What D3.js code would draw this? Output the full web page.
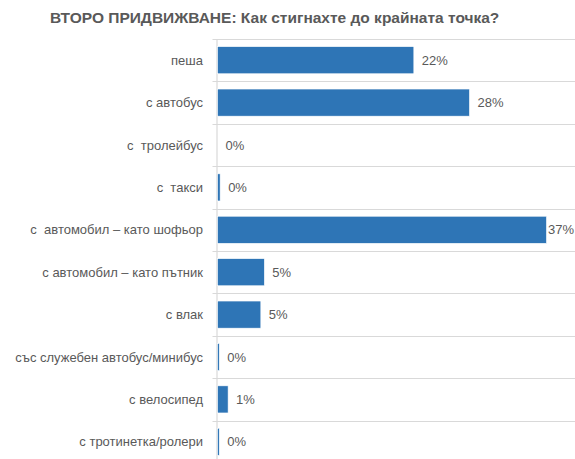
<!DOCTYPE html>
<html>
<head>
<meta charset="utf-8">
<script src="https://cdn.jsdelivr.net/npm/d3@7"></script>
<style>
  html, body { margin: 0; padding: 0; background: #fff; }
  svg text { font-family: "Liberation Sans", Arial, sans-serif; white-space: pre; }
</style>
</head>
<body>
<svg id="chart" width="575" height="459"></svg>
<script>
// Answers to "how did you reach the final point" (share of respondents)
const categories = [
  "пеша",
  "с автобус",
  "с  тролейбус",
  "с  такси",
  "с  автомобил – като шофьор",
  "с автомобил – като пътник",
  "с влак",
  "със служебен автобус/минибус",
  "с велосипед",
  "с тротинетка/ролери"
];
const shares = [0.222, 0.2849, 0.0, 0.003, 0.372, 0.053, 0.049, 0.002, 0.012, 0.002];
const titleText = "ВТОРО ПРИДВИЖВАНЕ: Как стигнахте до крайната точка?";

const W = 575, H = 459;
const plotLeft = 217.5, plotRight = 546.5, plotTop = 39, plotBottom = 463;
const textColor = "#595959", barColor = "#2E75B6", gridColor = "#d9d9d9";

const svg = d3.select("#chart");

const x = d3.scaleLinear().domain([0, d3.max(shares)]).range([plotLeft, plotRight]);
const y = d3.scaleBand().domain(categories).range([plotTop, plotBottom])
  .paddingInner(0.36).paddingOuter(0.18);
const fmt = d3.format(".0%");

// Title
svg.append("text")
  .attr("x", 50).attr("y", 23)
  .attr("font-size", 15.5).attr("font-weight", "bold")
  .attr("fill", textColor)
  .text(titleText);

// Separators between categories
const step = y.step();
const bounds = d3.range(categories.length + 1).map(i => plotTop + i * step);
svg.append("g").selectAll("line").data(bounds).join("line")
  .attr("x1", plotLeft - 5).attr("x2", W)
  .attr("y1", d => Math.round(d) + 0.5).attr("y2", d => Math.round(d) + 0.5)
  .attr("stroke", gridColor).attr("stroke-width", 1);

// Category axis line
svg.append("line")
  .attr("x1", plotLeft - 0.5).attr("x2", plotLeft - 0.5)
  .attr("y1", plotTop).attr("y2", H)
  .attr("stroke", gridColor).attr("stroke-width", 1.2);

// Bars
svg.append("g").selectAll("rect").data(categories).join("rect")
  .attr("x", x(0))
  .attr("y", d => y(d))
  .attr("width", (d, i) => x(shares[i]) - x(0))
  .attr("height", y.bandwidth())
  .attr("fill", barColor)
  .attr("stroke", "#ffffff").attr("stroke-width", 0.6);

// Category labels
svg.append("g").selectAll("text").data(categories).join("text")
  .attr("x", 203)
  .attr("y", d => y(d) + y.bandwidth() / 2)
  .attr("dy", "0.35em")
  .attr("text-anchor", "end")
  .attr("font-size", 13)
  .attr("fill", textColor)
  .text(d => d);

// Value labels, kept inside the drawing area
svg.append("g").selectAll("text").data(categories).join("text")
  .attr("y", d => y(d) + y.bandwidth() / 2)
  .attr("dy", "0.35em")
  .attr("font-size", 13)
  .attr("fill", textColor)
  .text((d, i) => fmt(shares[i]))
  .each(function(d, i) {
    const w = this.getComputedTextLength();
    const px = Math.min(x(shares[i]) + 8, W - w - 1);
    d3.select(this).attr("x", px);
  });
</script>
</body>
</html>
